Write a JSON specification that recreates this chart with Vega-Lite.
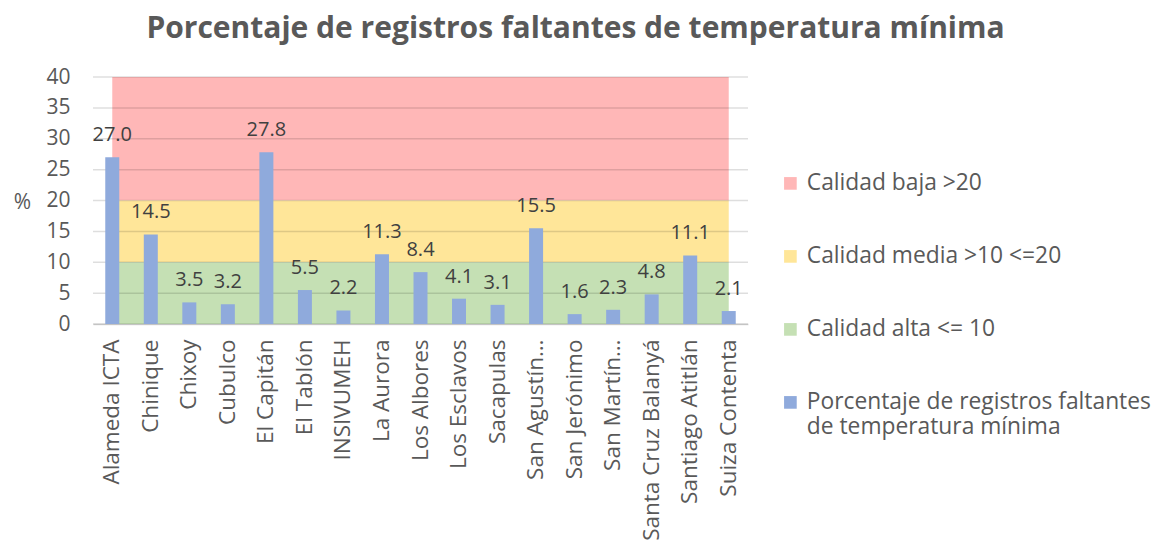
{
  "$schema": "https://vega.github.io/schema/vega-lite/v6.json",
  "width": 655,
  "height": 247,
  "autosize": {"type": "none"},
  "padding": {"left": 93, "top": 77, "right": 404, "bottom": 222},
  "background": "white",
  "config": {"view": {"stroke": null}, "font": "Open Sans", "axisY": {"labelOverlap": false}},
  "title": {
    "text": "Porcentaje de registros faltantes de temperatura mínima",
    "fontSize": 30,
    "fontWeight": "bold",
    "color": "#595959",
    "anchor": "middle",
    "dx": 155,
    "offset": 22,
    "font": "Open Sans"
  },
  "data": {
    "values": [
      {"estacion": "Alameda ICTA", "pct": 27.0},
      {"estacion": "Chinique", "pct": 14.5},
      {"estacion": "Chixoy", "pct": 3.5},
      {"estacion": "Cubulco", "pct": 3.2},
      {"estacion": "El Capitán", "pct": 27.8},
      {"estacion": "El Tablón", "pct": 5.5},
      {"estacion": "INSIVUMEH", "pct": 2.2},
      {"estacion": "La Aurora", "pct": 11.3},
      {"estacion": "Los Albores", "pct": 8.4},
      {"estacion": "Los Esclavos", "pct": 4.1},
      {"estacion": "Sacapulas", "pct": 3.1},
      {"estacion": "San Agustín…", "pct": 15.5},
      {"estacion": "San Jerónimo", "pct": 1.6},
      {"estacion": "San Martín…", "pct": 2.3},
      {"estacion": "Santa Cruz Balanyá", "pct": 4.8},
      {"estacion": "Santiago Atitlán", "pct": 11.1},
      {"estacion": "Suiza Contenta", "pct": 2.1}
    ]
  },
  "layer": [
    {
      "mark": {"type": "area", "opacity": 1},
      "encoding": {
        "x": {
          "field": "estacion", "type": "nominal", "sort": null,
          "scale": {"paddingInner": 0, "paddingOuter": 0},
          "axis": {
            "title": null,
            "labelAngle": -90,
            "labelAlign": "right",
            "labelBaseline": "middle",
            "labelFontSize": 22.5,
            "labelColor": "#595959",
            "labelPadding": 15,
            "labelLimit": 300,
            "labelOverlap": false,
            "ticks": false,
            "tickSize": 0,
            "domain": true,
            "domainColor": "#D9D9D9",
            "domainWidth": 1.5
          }
        },
        "y": {
          "datum": 40, "type": "quantitative",
          "scale": {"domain": [0, 40], "nice": false}
        },
        "y2": {"datum": 20},
        "color": {
          "datum": "Calidad baja >20", "type": "nominal",
          "scale": {
            "domain": ["Calidad baja >20", "Calidad media >10 <=20", "Calidad alta <= 10", "Porcentaje de registros faltantes de temperatura mínima"],
            "range": ["#FFB7B7", "#FFE699", "#C5E0B4", "#8FAADC"]
          },
          "legend": {
            "orient": "none",
            "legendX": 686,
            "legendY": 95,
            "title": null,
            "padding": 0,
            "symbolType": "square",
            "symbolSize": 160,
            "symbolStrokeWidth": 0,
            "symbolOpacity": 1,
            "labelFontSize": 22.8,
            "labelColor": "#595959",
            "labelOffset": 5,
            "labelLimit": 400,
            "rowPadding": 49,
            "labelExpr": "datum.label == 'Porcentaje de registros faltantes de temperatura mínima' ? ['Porcentaje de registros faltantes', 'de temperatura mínima'] : datum.label"
          }
        }
      }
    },
    {
      "mark": {"type": "area", "opacity": 1},
      "encoding": {
        "x": {"field": "estacion", "type": "nominal", "sort": null},
        "y": {"datum": 20, "type": "quantitative"},
        "y2": {"datum": 10},
        "color": {"datum": "Calidad media >10 <=20", "type": "nominal"}
      }
    },
    {
      "mark": {"type": "area", "opacity": 1},
      "encoding": {
        "x": {"field": "estacion", "type": "nominal", "sort": null},
        "y": {"datum": 10, "type": "quantitative"},
        "y2": {"datum": 0},
        "color": {"datum": "Calidad alta <= 10", "type": "nominal"}
      }
    },
    {
      "data": {"values": [{"g": 0}, {"g": 5}, {"g": 10}, {"g": 15}, {"g": 20}, {"g": 25}, {"g": 30}, {"g": 35}, {"g": 40}]},
      "mark": {"type": "rule", "color": "#000000", "opacity": 0.13, "strokeWidth": 1.5},
      "encoding": {
        "y": {
          "field": "g", "type": "quantitative",
          "axis": {
            "title": "%",
            "titleAngle": 0,
            "titleFontSize": 21,
            "titleFontWeight": "normal",
            "titleColor": "#595959",
            "titleX": -71,
            "titleY": 125,
            "titleAlign": "center",
            "titleBaseline": "middle",
            "tickCount": 8,
            "labelOverlap": false,
            "labelSeparation": 0,
            "labelBound": false,
            "labelFontSize": 21,
            "labelColor": "#595959",
            "labelPadding": 23,
            "grid": false,
            "domain": false,
            "ticks": false,
            "tickSize": 0
          }
        }
      }
    },
    {
      "mark": {"type": "bar", "width": 14},
      "encoding": {
        "x": {"field": "estacion", "type": "nominal", "sort": null},
        "y": {"field": "pct", "type": "quantitative"},
        "color": {"datum": "Porcentaje de registros faltantes de temperatura mínima", "type": "nominal"}
      }
    },
    {
      "mark": {"type": "text", "fontSize": 20, "color": "#404040", "baseline": "middle", "dy": -22},
      "encoding": {
        "x": {"field": "estacion", "type": "nominal", "sort": null},
        "y": {"field": "pct", "type": "quantitative"},
        "text": {"field": "pct", "type": "quantitative", "format": ".1f"}
      }
    }
  ]
}
